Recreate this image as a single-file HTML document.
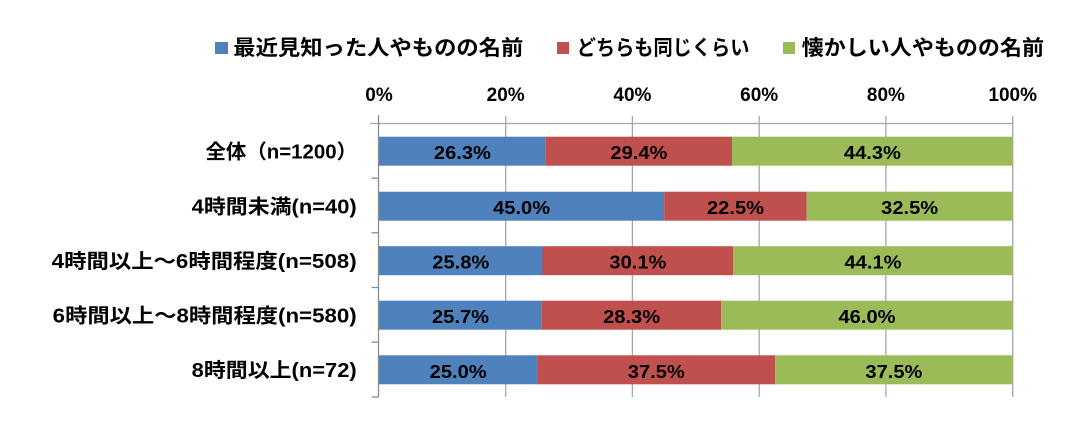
<!DOCTYPE html>
<html>
<head>
<meta charset="utf-8">
<style>
html,body{margin:0;padding:0;background:#fff;}
svg{display:block;}
text{font-family:"Liberation Sans","Noto Sans CJK JP",sans-serif;font-weight:bold;fill:#000;}
</style>
</head>
<body>
<svg width="1092" height="426" viewBox="0 0 1092 426" xmlns="http://www.w3.org/2000/svg">
<rect x="0" y="0" width="1092" height="426" fill="#fff"/>

<!-- Legend -->
<rect x="215" y="42" width="13" height="12" fill="#4f81bd"/>
<text x="233.3" y="55" font-size="21" textLength="290" lengthAdjust="spacingAndGlyphs">最近見知った人やものの名前</text>
<rect x="557" y="42" width="12" height="12" fill="#c0504d"/>
<text x="576.7" y="55" font-size="21" textLength="172.7" lengthAdjust="spacingAndGlyphs">どちらも同じくらい</text>
<rect x="783" y="42" width="12" height="12" fill="#9bbb59"/>
<text x="801.7" y="55" font-size="21" textLength="242.3" lengthAdjust="spacingAndGlyphs">懐かしい人やものの名前</text>

<!-- Tick labels -->
<g font-size="19" text-anchor="middle">
<text x="379" y="101">0%</text>
<text x="505.7" y="101">20%</text>
<text x="632.4" y="101">40%</text>
<text x="759.2" y="101">60%</text>
<text x="885.9" y="101">80%</text>
<text x="1012.7" y="101">100%</text>
</g>

<!-- Gridlines -->
<g stroke="#a6a6a6" stroke-width="1.3">
<line x1="505.7" y1="116" x2="505.7" y2="397"/>
<line x1="632.4" y1="116" x2="632.4" y2="397"/>
<line x1="759.2" y1="116" x2="759.2" y2="397"/>
<line x1="885.9" y1="116" x2="885.9" y2="397"/>
<line x1="1012.7" y1="116" x2="1012.7" y2="397"/>
<line x1="370" y1="123.5" x2="1012.7" y2="123.5"/>
</g>

<!-- Bars -->
<g>
<!-- row1 -->
<rect x="379" y="136.7" width="166.7" height="29" fill="#4f81bd"/>
<rect x="545.7" y="136.7" width="186.3" height="29" fill="#c0504d"/>
<rect x="732" y="136.7" width="280.7" height="29" fill="#9bbb59"/>
<!-- row2 -->
<rect x="379" y="191.7" width="285.2" height="29" fill="#4f81bd"/>
<rect x="664.2" y="191.7" width="142.5" height="29" fill="#c0504d"/>
<rect x="806.7" y="191.7" width="206" height="29" fill="#9bbb59"/>
<!-- row3 -->
<rect x="379" y="246.2" width="163.5" height="29" fill="#4f81bd"/>
<rect x="542.5" y="246.2" width="190.7" height="29" fill="#c0504d"/>
<rect x="733.2" y="246.2" width="279.5" height="29" fill="#9bbb59"/>
<!-- row4 -->
<rect x="379" y="300.7" width="162.9" height="29" fill="#4f81bd"/>
<rect x="541.9" y="300.7" width="179.3" height="29" fill="#c0504d"/>
<rect x="721.2" y="300.7" width="291.5" height="29" fill="#9bbb59"/>
<!-- row5 -->
<rect x="379" y="355.3" width="158.4" height="29" fill="#4f81bd"/>
<rect x="537.4" y="355.3" width="237.7" height="29" fill="#c0504d"/>
<rect x="775.1" y="355.3" width="237.6" height="29" fill="#9bbb59"/>
</g>

<!-- Left axis -->
<g stroke="#8c8c8c" stroke-width="1.3">
<line x1="378.5" y1="115" x2="378.5" y2="397.5"/>
<line x1="371.5" y1="178.2" x2="378.5" y2="178.2"/>
<line x1="371.5" y1="232.8" x2="378.5" y2="232.8"/>
<line x1="371.5" y1="287.5" x2="378.5" y2="287.5"/>
<line x1="371.5" y1="342.2" x2="378.5" y2="342.2"/>
<line x1="371.5" y1="397" x2="378.5" y2="397"/>
</g>

<!-- Data labels -->
<g font-size="18" text-anchor="middle">
<text x="462.4" y="159.2" textLength="57" lengthAdjust="spacingAndGlyphs">26.3%</text>
<text x="638.9" y="159.2" textLength="57" lengthAdjust="spacingAndGlyphs">29.4%</text>
<text x="872.4" y="159.2" textLength="57" lengthAdjust="spacingAndGlyphs">44.3%</text>

<text x="521.6" y="214.2" textLength="57" lengthAdjust="spacingAndGlyphs">45.0%</text>
<text x="735.5" y="214.2" textLength="57" lengthAdjust="spacingAndGlyphs">22.5%</text>
<text x="909.7" y="214.2" textLength="57" lengthAdjust="spacingAndGlyphs">32.5%</text>

<text x="460.8" y="268.7" textLength="57" lengthAdjust="spacingAndGlyphs">25.8%</text>
<text x="637.9" y="268.7" textLength="57" lengthAdjust="spacingAndGlyphs">30.1%</text>
<text x="873" y="268.7" textLength="57" lengthAdjust="spacingAndGlyphs">44.1%</text>

<text x="460.5" y="323.2" textLength="57" lengthAdjust="spacingAndGlyphs">25.7%</text>
<text x="631.6" y="323.2" textLength="57" lengthAdjust="spacingAndGlyphs">28.3%</text>
<text x="867" y="323.2" textLength="57" lengthAdjust="spacingAndGlyphs">46.0%</text>

<text x="458.2" y="377.8" textLength="57" lengthAdjust="spacingAndGlyphs">25.0%</text>
<text x="656.3" y="377.8" textLength="57" lengthAdjust="spacingAndGlyphs">37.5%</text>
<text x="893.9" y="377.8" textLength="57" lengthAdjust="spacingAndGlyphs">37.5%</text>
</g>

<!-- Category labels -->
<g font-size="20">
<text x="205.5" y="158.5" textLength="151.5" lengthAdjust="spacingAndGlyphs">全体（n=1200）</text>
<text x="191.7" y="213.5" textLength="165" lengthAdjust="spacingAndGlyphs">4時間未満(n=40)</text>
<text x="51.7" y="268" textLength="305" lengthAdjust="spacingAndGlyphs">4時間以上～6時間程度(n=508)</text>
<text x="52.7" y="322.5" textLength="304" lengthAdjust="spacingAndGlyphs">6時間以上～8時間程度(n=580)</text>
<text x="191.7" y="377" textLength="165" lengthAdjust="spacingAndGlyphs">8時間以上(n=72)</text>
</g>
</svg>
</body>
</html>
